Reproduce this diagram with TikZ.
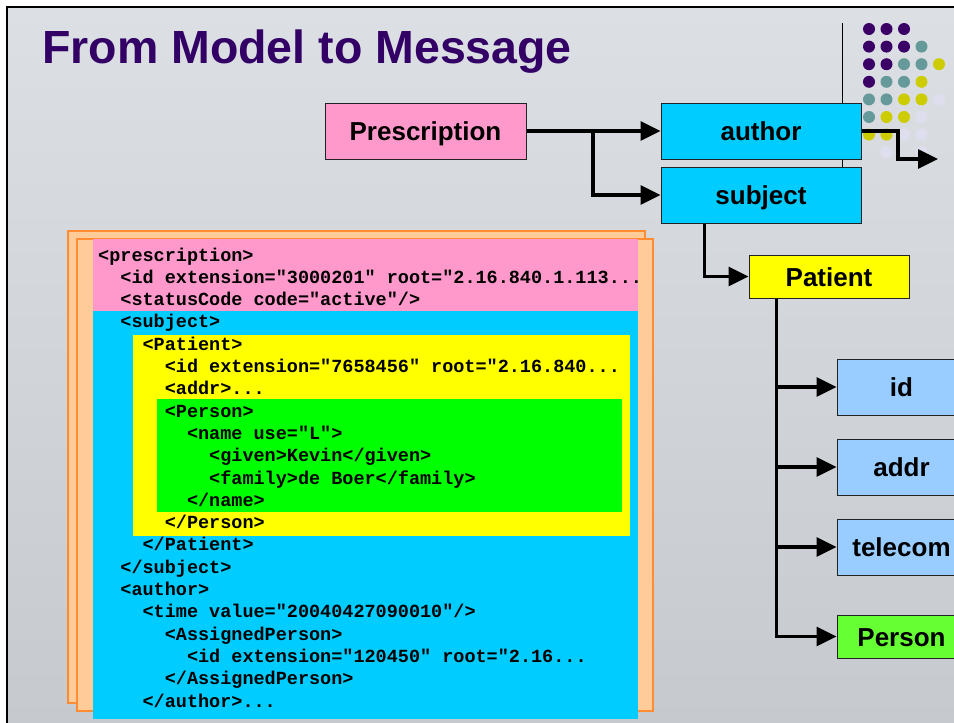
\documentclass[tikz,border=0pt]{standalone}
\usepackage{fontspec}
\setmainfont{Liberation Sans}
\setmonofont{Liberation Mono}
\usetikzlibrary{arrows.meta}
\definecolor{titlec}{HTML}{330066}
\definecolor{bgtop}{RGB}{220,224,228}
\definecolor{bgbot}{RGB}{198,202,206}
\definecolor{dP}{HTML}{3A0066}
\definecolor{dT}{HTML}{669999}
\definecolor{dY}{HTML}{CCCC00}
\definecolor{dL}{HTML}{DEDEEE}
\definecolor{pinkC}{HTML}{FF99CC}
\definecolor{cyanC}{HTML}{00CCFF}
\definecolor{yellowC}{HTML}{FFFF00}
\definecolor{greenC}{HTML}{00FF00}
\definecolor{personG}{HTML}{66FF33}
\definecolor{lblue}{HTML}{99CCFF}
\definecolor{paperF}{HTML}{FFCC99}
\definecolor{paperD}{HTML}{FF8C33}
\definecolor{boxD}{HTML}{222222}
\newcommand\xmlline[3]{\node[codetext] (l#1) at ({98+22.2*#2},{261+22.3*#1}) {#3};}
\begin{document}
\begin{tikzpicture}[x=1pt,y=-1pt,
  box/.style={draw=boxD, line width=1pt, inner sep=0pt, text height=19pt, text depth=0pt, font=\fontsize{26}{30}\selectfont\bfseries},
  arr/.style={line width=3.3pt, -{Triangle[length=20pt,width=19pt]}},
  codetext/.style={anchor=base west, inner sep=0pt, font=\fontsize{18.5}{22}\selectfont\ttfamily\bfseries},
  paper/.style={fill=paperF, draw=paperD, line width=1.4pt}]
\useasboundingbox (0,0) rectangle (954,723);
\fill[white] (0,0) rectangle (954,723);
\shade[top color=bgtop, bottom color=bgbot] (7,7) rectangle (954,723);
\draw[line width=2.5pt] (7,724) -- (7,7) -- (955,7);
% title
\node[anchor=base west, inner sep=0pt, text=titlec, font=\fontsize{46.5}{50}\selectfont\bfseries] (title) at (42,63) {From Model to Message};
% thin decorative line
\draw[line width=0.8pt] (842,23) -- (842,167);
% dots
\foreach \cx/\cy/\cc in {0/0/dP,1/0/dP,2/0/dP,
  0/1/dP,1/1/dP,2/1/dP,3/1/dT,
  0/2/dP,1/2/dP,2/2/dT,3/2/dT,4/2/dY,
  0/3/dP,1/3/dT,2/3/dT,3/3/dY,
  0/4/dT,1/4/dT,2/4/dY,3/4/dY,4/4/dL,
  0/5/dT,1/5/dY,2/5/dY,3/5/dL,
  0/6/dY,1/6/dY,2/6/dL,3/6/dL,
  1/7/dL,3/7/dL}
  \fill[\cc] ({869+17.5*\cx},{29+17.6*\cy}) circle (6pt);
% model boxes
\node[box, fill=pinkC, minimum width=201pt, minimum height=56pt] (presc) at (425.5,131) {Prescription};
\node[box, fill=cyanC, minimum width=200pt, minimum height=56pt] (author) at (761,131) {author};
\node[box, fill=cyanC, minimum width=200pt, minimum height=56pt] (subject) at (761,195) {subject};
\node[box, fill=yellowC, minimum width=160pt, minimum height=43pt] (patient) at (829,276.5) {Patient};
\node[box, fill=lblue, minimum width=129pt, minimum height=56pt] (pid) at (901.5,387) {id};
\node[box, fill=lblue, minimum width=129pt, minimum height=56pt] (paddr) at (901.5,467) {addr};
\node[box, fill=lblue, minimum width=129pt, minimum height=56pt] (ptel) at (901.5,547) {telecom};
\node[box, fill=personG, minimum width=129pt, minimum height=43pt] (pperson) at (901.5,636.5) {Person};
% connectors
\coordinate (b1) at (593,131);
\coordinate (bend) at (898,131);
\coordinate (outend) at (938,159);
\draw[arr] (presc.east) -- (author.west);
\draw[arr] (b1) |- (subject.west);
\draw[arr] ([xshift=44pt]subject.south west) |- (patient.west);
\foreach \c in {pid,paddr,ptel,pperson}
  \draw[arr] ([xshift=28pt]patient.south west) |- (\c.west);
\draw[arr] (author.east) -- (bend) |- (outend);
% message (XML) block
\draw[paper] (68,231) rectangle (645,703);
\draw[paper] (77,239) rectangle (653,711);
\fill[pinkC] (93,239) rectangle (638,311);
\fill[cyanC] (93,311) rectangle (638,719);
\fill[yellowC] (133,335) rectangle (630,536);
\fill[greenC] (157,399) rectangle (622,512);
\xmlline{0}{0}{<prescription>}
\xmlline{1}{1}{<id extension="3000201" root="2.16.840.1.113...}
\xmlline{2}{1}{<statusCode code="active"/>}
\xmlline{3}{1}{<subject>}
\xmlline{4}{2}{<Patient>}
\xmlline{5}{3}{<id extension="7658456" root="2.16.840...}
\xmlline{6}{3}{<addr>...}
\xmlline{7}{3}{<Person>}
\xmlline{8}{4}{<name use="L">}
\xmlline{9}{5}{<given>Kevin</given>}
\xmlline{10}{5}{<family>de Boer</family>}
\xmlline{11}{4}{</name>}
\xmlline{12}{3}{</Person>}
\xmlline{13}{2}{</Patient>}
\xmlline{14}{1}{</subject>}
\xmlline{15}{1}{<author>}
\xmlline{16}{2}{<time value="20040427090010"/>}
\xmlline{17}{3}{<AssignedPerson>}
\xmlline{18}{4}{<id extension="120450" root="2.16...}
\xmlline{19}{3}{</AssignedPerson>}
\xmlline{20}{2}{</author>...}
\end{tikzpicture}
\end{document}
